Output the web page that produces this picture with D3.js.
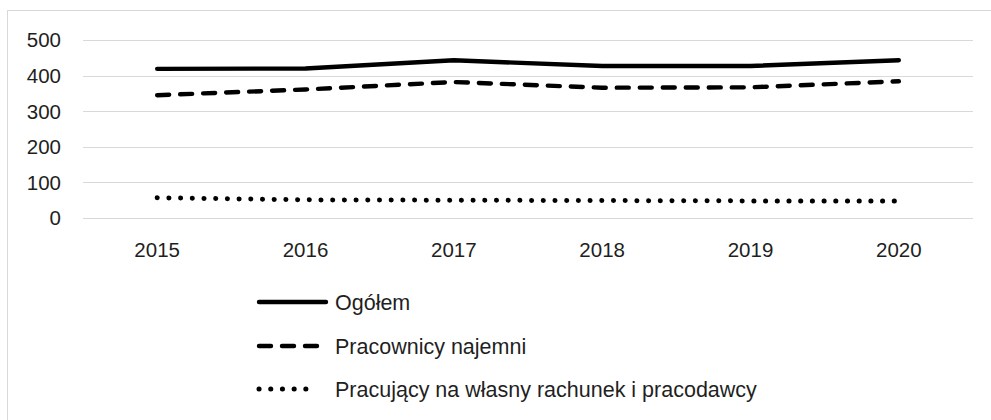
<!DOCTYPE html>
<html>
<head>
	<meta charset="utf-8">
	<title>Pracujący</title>
	<script src="https://d3js.org/d3.v7.min.js"></script>
	<style>
		body {
			margin: 0;
			padding: 0;
			background: white;
			overflow: hidden;
		}

		text {
			font-family: "Liberation Sans", Arial, sans-serif;
			fill: #1f1f1f;
		}
	</style>
</head>
<body>
	<script>
		var years = ["2015", "2016", "2017", "2018", "2019", "2020"];
		var ogolem = [419, 420, 443, 427, 427, 443];
		var najemni = [345, 361, 382, 366, 367, 384];
		var wlasny = [57, 51, 50, 49, 48, 48];
		var seriesNames = ["Ogółem", "Pracownicy najemni", "Pracujący na własny rachunek i pracodawcy"];
		var yTicks = [0, 100, 200, 300, 400, 500];

		var width = 991,
			height = 420;

		var svg = d3.select("body").append("svg")
			.attr("width", width)
			.attr("height", height);

		// chart border
		svg.append("rect")
			.attr("x", 7.5).attr("y", 10.5)
			.attr("width", 990).attr("height", 420)
			.attr("fill", "none")
			.attr("stroke", "#d9d9d9");

		var x = d3.scaleBand().domain(years).range([83, 973]);
		var y = d3.scaleLinear().domain([0, 500]).range([218, 40]);

		// gridlines
		svg.append("g").selectAll("line")
			.data(yTicks)
			.enter().append("line")
			.attr("x1", 83).attr("x2", 973)
			.attr("y1", (d) => Math.round(y(d)) + 0.5)
			.attr("y2", (d) => Math.round(y(d)) + 0.5)
			.attr("stroke", "#d9d9d9")
			.attr("stroke-width", 1);

		// y axis labels
		svg.append("g").selectAll("text")
			.data(yTicks)
			.enter().append("text")
			.attr("x", 61)
			.attr("y", (d) => y(d))
			.attr("dy", "0.36em")
			.attr("text-anchor", "end")
			.style("font-size", "20.5px")
			.text((d) => d);

		// x axis labels
		svg.append("g").selectAll("text")
			.data(years)
			.enter().append("text")
			.attr("x", (d) => x(d) + x.bandwidth() / 2)
			.attr("y", 257)
			.attr("text-anchor", "middle")
			.style("font-size", "20.5px")
			.text((d) => d);

		var styles = [
			{ dash: null, cap: "round" },
			{ dash: "12 11", cap: "round" },
			{ dash: "0.1 11.6", cap: "round" }
		];

		var series = [ogolem, najemni, wlasny];

		var line = d3.line()
			.x((d, i) => x(years[i]) + x.bandwidth() / 2)
			.y((d) => y(d));

		svg.append("g").selectAll("path")
			.data(series)
			.enter().append("path")
			.attr("d", (d) => line(d))
			.attr("fill", "none")
			.attr("stroke", "#000")
			.attr("stroke-width", (d, i) => i == 2 ? 5 : 4.4)
			.attr("stroke-linecap", (d, i) => styles[i].cap)
			.attr("stroke-linejoin", "round")
			.attr("stroke-dasharray", (d, i) => styles[i].dash);

		// legend
		var legendY = [302, 346, 389];
		var legendEnd = [328, 319, 318];
		var lg = svg.append("g").selectAll("g")
			.data(seriesNames)
			.enter().append("g");

		lg.append("line")
			.attr("x1", 259)
			.attr("x2", (d, i) => legendEnd[i] - 2)
			.attr("y1", (d, i) => legendY[i])
			.attr("y2", (d, i) => legendY[i])
			.attr("stroke", "#000")
			.attr("stroke-width", (d, i) => i == 2 ? 5 : 4.4)
			.attr("stroke-linecap", "round")
			.attr("stroke-dasharray", (d, i) => styles[i].dash);

		lg.append("text")
			.attr("x", 335)
			.attr("y", (d, i) => legendY[i])
			.attr("dy", "0.36em")
			.style("font-size", "21.5px")
			.text((d) => d);
	</script>
</body>
</html>
